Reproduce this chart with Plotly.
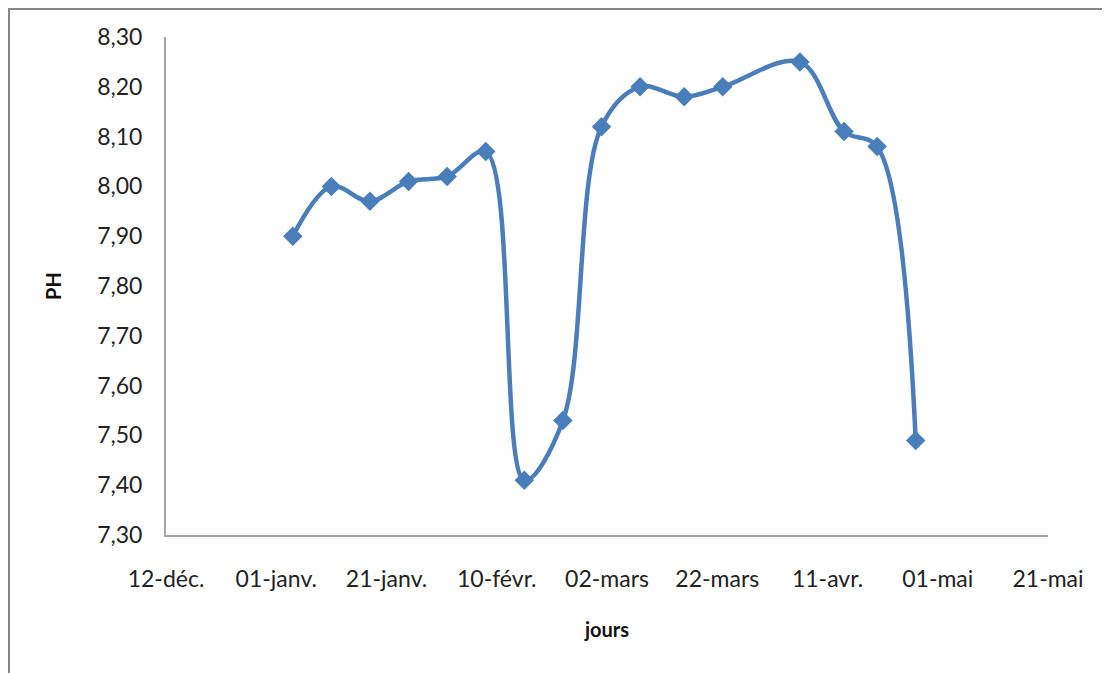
import plotly.graph_objects as go

dates = ["2011-01-04", "2011-01-11", "2011-01-18", "2011-01-25", "2011-02-01",
         "2011-02-08", "2011-02-15", "2011-02-22", "2011-03-01", "2011-03-08",
         "2011-03-16", "2011-03-23", "2011-04-06", "2011-04-14", "2011-04-20",
         "2011-04-27"]
ph = [7.90, 8.00, 7.97, 8.01, 8.02, 8.07, 7.41, 7.53, 8.12, 8.20,
      8.18, 8.20, 8.25, 8.11, 8.08, 7.49]

tick_dates = ["2010-12-12", "2011-01-01", "2011-01-21", "2011-02-10", "2011-03-02",
              "2011-03-22", "2011-04-11", "2011-05-01", "2011-05-21"]
tick_labels = ["12-déc.", "01-janv.", "21-janv.", "10-févr.", "02-mars",
               "22-mars", "11-avr.", "01-mai", "21-mai"]
y_ticks = [7.3 + 0.1 * i for i in range(11)]
y_labels = [f"{v:.2f}".replace(".", ",") for v in y_ticks]

FONT = "Lato, Open Sans, sans-serif"
BLUE = "#4A7EBB"

fig = go.Figure()
fig.add_trace(go.Scatter(
    x=dates, y=ph, mode="lines+markers",
    line=dict(color=BLUE, width=4.5, shape="spline", smoothing=1.0),
    marker=dict(symbol="diamond", size=15, color=BLUE),
    showlegend=False,
))

W, H = 1110, 673
L, R, T, B = 158, 70, 29, 146
pw, ph_ = W - L - R, H - T - B

fig.update_layout(
    width=W, height=H,
    margin=dict(l=L, r=R, t=T, b=B, pad=0),
    paper_bgcolor="white", plot_bgcolor="white",
    font=dict(family=FONT, size=23, color="#222222"),
    xaxis=dict(
        type="date", range=["2010-12-12", "2011-05-21"],
        tickvals=tick_dates, ticktext=tick_labels,
        showgrid=False, zeroline=False,
        showline=True, linecolor="#A6A6A6", linewidth=2,
        ticks="", ticklen=0, ticklabelstandoff=22,
        title=dict(text="<b>jours</b>", font=dict(size=20, color="#111111"), standoff=32),
    ),
    yaxis=dict(
        range=[7.3, 8.3],
        tickvals=y_ticks, ticktext=y_labels,
        showgrid=False, zeroline=False,
        showline=True, linecolor="#A6A6A6", linewidth=2,
        ticks="", ticklen=0, ticklabelstandoff=17,
        title=dict(text="<b>PH</b>", font=dict(size=20, color="#111111"), standoff=30),
    ),
    shapes=[dict(
        type="rect", xref="paper", yref="paper",
        x0=(1 - L) / pw, x1=(W + 20 - L) / pw,
        y0=(H - B - (H + 20)) / ph_, y1=(H - B - 1) / ph_,
        line=dict(color="#868686", width=2), fillcolor="rgba(0,0,0,0)",
        layer="below",
    )],
)

fig.write_html("out.html")
